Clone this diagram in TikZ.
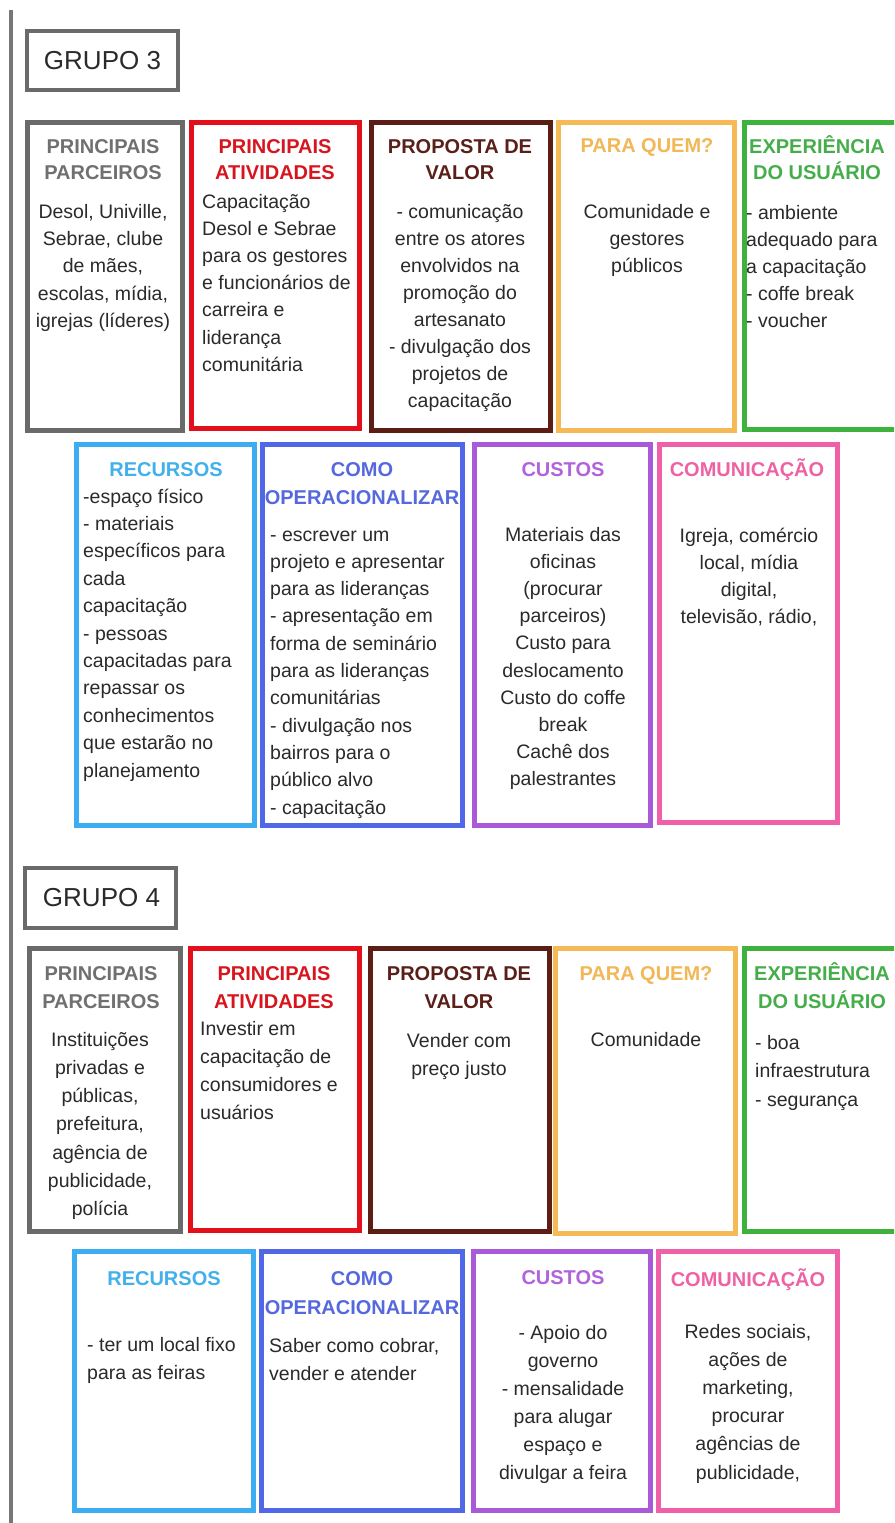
\documentclass[tikz,border=0pt]{standalone}
\usepackage{fontspec}
\setmainfont{Liberation Sans}

\definecolor{cgray}{HTML}{6A6A6A}
\definecolor{cred}{HTML}{E3101B}
\definecolor{cbrown}{HTML}{5C1D14}
\definecolor{corange}{HTML}{F5B955}
\definecolor{cgreen}{HTML}{3FB13D}
\definecolor{ccyan}{HTML}{3BADF0}
\definecolor{cblue}{HTML}{5068E8}
\definecolor{cpurple}{HTML}{A85AD9}
\definecolor{cpink}{HTML}{F060A8}
\definecolor{tgray}{HTML}{707070}
\definecolor{tred}{HTML}{D8151E}
\definecolor{tbrown}{HTML}{5A1F18}
\definecolor{torange}{HTML}{F2B757}
\definecolor{tgreen}{HTML}{45AE4A}
\definecolor{tcyan}{HTML}{42B0EA}
\definecolor{tblue}{HTML}{5568DE}
\definecolor{tpurple}{HTML}{B063DA}
\definecolor{tpink}{HTML}{EE62A4}
\definecolor{bodytext}{HTML}{2A2A2A}
\definecolor{sidegray}{HTML}{777777}

\newcommand\cellbodyfont{\fontsize{19.5}{23}\selectfont}
\newcommand\celltitlefont{\bfseries\fontsize{20}{24}\selectfont}
\newcommand\grouplabelfont{\fontsize{26}{30}\selectfont}

% #1 name prefix, #2 x, #3 first baseline, #4 line step, #5 node options, #6 lines
\newcommand\textlines[6]{%
  \foreach \lineText [count=\k from 0] in {#6} {
    \node[#5] (#1-\k) at (#2, {#3+\k*#4}) {\lineText};
  }}

\begin{document}
\begin{tikzpicture}[x=1pt,y=-1pt,
  cellbox/.style={line width=5pt},
  groupbox/.style={line width=4pt, draw=cgray},
  sideline/.style={line width=3.5pt, draw=sidegray},
  body/.style={inner sep=0pt, text=bodytext, font=\cellbodyfont},
  title/.style={inner sep=0pt, font=\celltitlefont},
  cb/.style={anchor=base},
  lb/.style={anchor=base west},
  grouplabel/.style={inner sep=0pt, text=bodytext, font=\grouplabelfont}]

\useasboundingbox (0,0) rectangle (894,1523);
\clip (0,0) rectangle (894,1523);
\fill[white] (0,0) rectangle (894,1523);

% vertical rule along the left margin
\draw[sideline] (11,10) -- (11,1523);

% ===================== GRUPO 3 =====================
\draw[groupbox] (27,31) rectangle (178,90);
\node[grouplabel] (g3label) at (102.5,60.5) {GRUPO 3};

% first row of cells
\draw[cellbox, cgray]   (27.5,122.5) rectangle (182.5,430.5);
\draw[cellbox, cred]    (191.5,122.5) rectangle (359.5,428.5);
\draw[cellbox, cbrown]  (371.5,122.5) rectangle (550.5,430.5);
\draw[cellbox, corange] (558.5,122.5) rectangle (734.5,430.5);
\draw[cellbox, cgreen]  (744.5,122.5) rectangle (910,429.5);

\textlines{g3t1}{103}{153.5}{25.8}{title, cb, text=tgray}{PRINCIPAIS, PARCEIROS}
\textlines{g3b1}{103}{218.5}{27.2}{body, cb}{{Desol, Univille,}, {Sebrae, clube}, {de mães,}, {escolas, mídia,}, {igrejas (líderes)}}

\textlines{g3t2}{275}{153.5}{25.8}{title, cb, text=tred}{PRINCIPAIS, ATIVIDADES}
\textlines{g3b2}{202}{208}{27.2}{body, lb}{Capacitação, Desol e Sebrae, para os gestores, e funcionários de, carreira e, liderança, comunitária}

\textlines{g3t3}{460}{153.5}{25.8}{title, cb, text=tbrown}{PROPOSTA DE, VALOR}
\textlines{g3b3}{460}{218}{27.1}{body, cb}{- comunicação, entre os atores, envolvidos na, promoção do, artesanato, - divulgação dos, projetos de, capacitação}

\textlines{g3t4}{647}{152.5}{25.8}{title, cb, text=torange}{PARA QUEM?}
\textlines{g3b4}{647}{218}{27}{body, cb}{Comunidade e, gestores, públicos}

\textlines{g3t5}{817}{153.5}{25.8}{title, cb, text=tgreen}{EXPERIÊNCIA, DO USUÁRIO}
\textlines{g3b5}{746}{219}{27.2}{body, lb}{- ambiente, adequado para, a capacitação, - coffe break, - voucher}

% second row of cells
\draw[cellbox, ccyan]   (76.5,444.5) rectangle (254.5,825.5);
\draw[cellbox, cblue]   (262.5,444.5) rectangle (462.5,825.5);
\draw[cellbox, cpurple] (474.5,444.5) rectangle (650.5,825.5);
\draw[cellbox, cpink]   (659.5,444.5) rectangle (837.5,822.5);

\textlines{g3t6}{166}{476}{28}{title, cb, text=tcyan}{RECURSOS}
\textlines{g3b6}{83}{503}{27.4}{body, lb}{-espaço físico, - materiais, específicos para, cada, capacitação, - pessoas, capacitadas para, repassar os, conhecimentos, que estarão no, planejamento}

\textlines{g3t7}{362}{476}{28}{title, cb, text=tblue}{COMO, OPERACIONALIZAR}
\textlines{g3b7}{270}{541}{27.3}{body, lb}{- escrever um, projeto e apresentar, para as lideranças, - apresentação em, forma de seminário, para as lideranças, comunitárias, - divulgação nos, bairros para o, público alvo, - capacitação}

\textlines{g3t8}{563}{476}{28}{title, cb, text=tpurple}{CUSTOS}
\textlines{g3b8}{563}{541}{27.2}{body, cb}{Materiais das, oficinas, {(procurar}, {parceiros)}, Custo para, deslocamento, Custo do coffe, break, Cachê dos, palestrantes}

\textlines{g3t9}{747}{476}{28}{title, cb, text=tpink}{COMUNICAÇÃO}
\textlines{g3b9}{749}{542}{27.3}{body, cb}{{Igreja, comércio}, {local, mídia}, {digital,}, {televisão, rádio,}}

% ===================== GRUPO 4 =====================
\draw[groupbox] (25,868) rectangle (176,928);
\node[grouplabel] (g4label) at (101.5,898) {GRUPO 4};

% first row of cells
\draw[cellbox, cgray]   (29.5,948.5) rectangle (180.5,1231.5);
\draw[cellbox, cred]    (190.5,948.5) rectangle (359.5,1230.5);
\draw[cellbox, cbrown]  (370.5,948.5) rectangle (549.5,1231.5);
\draw[cellbox, corange] (555.5,948.5) rectangle (735.5,1233.5);
\draw[cellbox, cgreen]  (744.5,948.5) rectangle (910,1231.5);

\textlines{g4t1}{101}{980}{28}{title, cb, text=tgray}{PRINCIPAIS, PARCEIROS}
\textlines{g4b1}{100}{1046}{28.3}{body, cb}{Instituições, privadas e, {públicas,}, {prefeitura,}, agência de, {publicidade,}, polícia}

\textlines{g4t2}{274}{980}{28}{title, cb, text=tred}{PRINCIPAIS, ATIVIDADES}
\textlines{g4b2}{200}{1035}{28}{body, lb}{Investir em, capacitação de, consumidores e, usuários}

\textlines{g4t3}{459}{980}{28}{title, cb, text=tbrown}{PROPOSTA DE, VALOR}
\textlines{g4b3}{459}{1047}{28}{body, cb}{Vender com, preço justo}

\textlines{g4t4}{646}{980}{28}{title, cb, text=torange}{PARA QUEM?}
\textlines{g4b4}{646}{1046}{28}{body, cb}{Comunidade}

\textlines{g4t5}{822}{980}{28}{title, cb, text=tgreen}{EXPERIÊNCIA, DO USUÁRIO}
\textlines{g4b5}{755}{1049}{28.5}{body, lb}{- boa, infraestrutura, - segurança}

% second row of cells
\draw[cellbox, ccyan]   (74.5,1251.5) rectangle (253.5,1510.5);
\draw[cellbox, cblue]   (261.5,1251.5) rectangle (462.5,1510.5);
\draw[cellbox, cpurple] (473.5,1251.5) rectangle (650.5,1510.5);
\draw[cellbox, cpink]   (658.5,1251.5) rectangle (837.5,1510.5);

\textlines{g4t6}{164}{1285}{28}{title, cb, text=tcyan}{RECURSOS}
\textlines{g4b6}{87}{1351}{28}{body, lb}{- ter um local fixo, para as feiras}

\textlines{g4t7}{362}{1285}{29}{title, cb, text=tblue}{COMO, OPERACIONALIZAR}
\textlines{g4b7}{269}{1352}{28}{body, lb}{{Saber como cobrar,}, vender e atender}

\textlines{g4t8}{563}{1284}{28}{title, cb, text=tpurple}{CUSTOS}
\textlines{g4b8}{563}{1339}{28}{body, cb}{- Apoio do, governo, - mensalidade, para alugar, espaço e, divulgar a feira}

\textlines{g4t9}{748}{1286}{28}{title, cb, text=tpink}{COMUNICAÇÃO}
\textlines{g4b9}{748}{1338}{28.2}{body, cb}{{Redes sociais,}, ações de, {marketing,}, procurar, agências de, {publicidade,}}

\end{tikzpicture}
\end{document}
